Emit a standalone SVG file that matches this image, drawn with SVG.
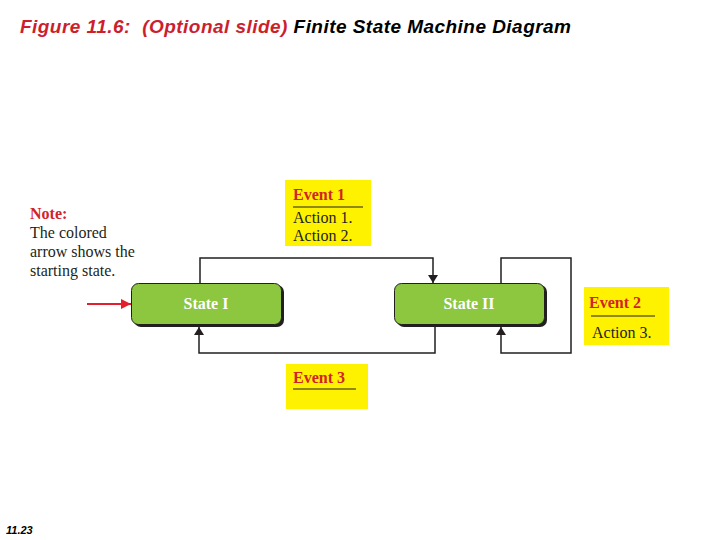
<svg xmlns="http://www.w3.org/2000/svg" width="720" height="540" viewBox="0 0 720 540">
<style>
.title{font-family:"Liberation Sans",Arial,sans-serif;font-style:italic;font-weight:bold;font-size:19px}
.ev{font-family:"Liberation Serif","Times New Roman",serif;font-weight:bold;font-size:16px;fill:#D2232A}
.act{font-family:"Liberation Serif","Times New Roman",serif;font-size:16px;fill:#231F20}
.st{font-family:"Liberation Serif","Times New Roman",serif;font-weight:bold;font-size:16px;fill:#FFFFFF}
.box{fill:#FFF200}
.conn{fill:none;stroke:#231F20;stroke-width:1.5}
.state{fill:#8DC63F;stroke:#231F20;stroke-width:1}
.shadow{fill:#231F20}
</style>
<defs>
<marker id="ah" markerWidth="8" markerHeight="10" refX="8" refY="5" orient="auto" markerUnits="userSpaceOnUse">
<path d="M0,0 L8,5 L0,10 Z" fill="#231F20"/>
</marker>
<marker id="ahr" markerWidth="10" markerHeight="10" refX="10" refY="5" orient="auto" markerUnits="userSpaceOnUse">
<path d="M0,0 L10,5 L0,10 Z" fill="#E31E2D"/>
</marker>
</defs>
<rect width="720" height="540" fill="#FFFFFF"/>
<text class="title" x="20" y="33" xml:space="preserve" textLength="551" lengthAdjust="spacing"><tspan fill="#CC1F2E">Figure 11.6:  (Optional slide)</tspan><tspan fill="#000000"> Finite State Machine Diagram</tspan></text>

<g id="note">
<text class="ev" x="30" y="219">Note:</text>
<text class="act" x="30" y="238">The colored</text>
<text class="act" x="30" y="257">arrow shows the</text>
<text class="act" x="30" y="276">starting state.</text>
</g>

<g id="connectors">
<line x1="87" y1="304" x2="131" y2="304" stroke="#E31E2D" stroke-width="2" marker-end="url(#ahr)"/>
<polyline class="conn" points="200,283 200,258 433,258 433,283" marker-end="url(#ah)"/>
<polyline class="conn" points="435,327 435,353 199,353 199,327" marker-end="url(#ah)"/>
<polyline class="conn" points="501,283 501,258 571,258 571,353 501,353 501,327" marker-end="url(#ah)"/>
</g>

<g id="state1">
<rect class="shadow" x="134" y="285" width="150" height="42" rx="7"/>
<rect class="state" x="131.5" y="283.5" width="150" height="41" rx="7"/>
<text class="st" x="206" y="309" text-anchor="middle">State I</text>
</g>

<g id="state2">
<rect class="shadow" x="397" y="285" width="150" height="42" rx="7"/>
<rect class="state" x="394.5" y="283.5" width="150" height="41" rx="7"/>
<text class="st" x="469" y="309" text-anchor="middle">State II</text>
</g>

<g id="event1">
<rect class="box" x="285" y="180" width="86" height="66"/>
<text class="ev" x="293" y="200">Event 1</text>
<line x1="293" y1="207" x2="363" y2="207" stroke="#231F20" stroke-width="1.2"/>
<text class="act" x="293" y="223">Action 1.</text>
<text class="act" x="293" y="241">Action 2.</text>
</g>

<g id="event2">
<rect class="box" x="584" y="287" width="85" height="58"/>
<text class="ev" x="589" y="308">Event 2</text>
<line x1="591" y1="316" x2="655" y2="316" stroke="#231F20" stroke-width="1.2"/>
<text class="act" x="592" y="338">Action 3.</text>
</g>

<g id="event3">
<rect class="box" x="286" y="364" width="82" height="45"/>
<text class="ev" x="293" y="383">Event 3</text>
<line x1="293" y1="389" x2="356" y2="389" stroke="#231F20" stroke-width="1.2"/>
</g>

<text x="6" y="534" font-family="'Liberation Sans',Arial,sans-serif" font-style="italic" font-weight="bold" font-size="11" fill="#000000">11.23</text>
</svg>
